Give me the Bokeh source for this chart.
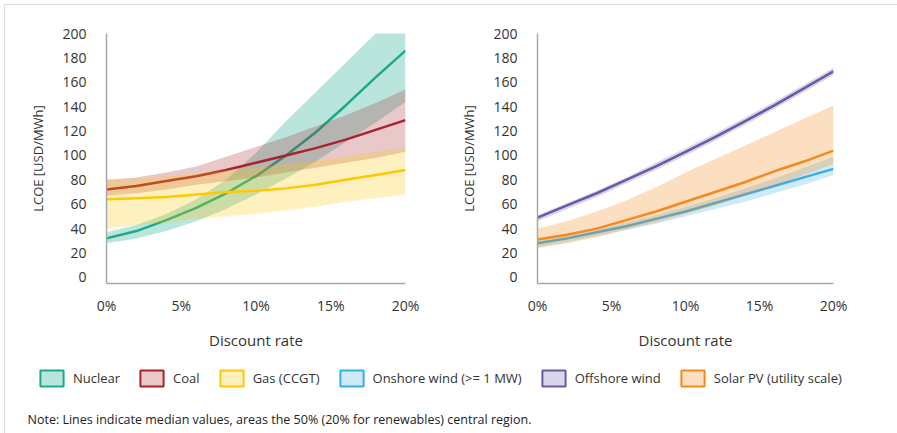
from bokeh.plotting import figure
from bokeh.layouts import column, row
from bokeh.models import FixedTicker, Legend, LegendItem, Label, Range1d
from bokeh.embed import file_html
from bokeh.resources import INLINE

# Discount rates (%) at which the LCOE was evaluated
rates = [0, 2, 4, 6, 8, 10, 12, 14, 16, 18, 20]

# Dispatchable technologies: median and central-region bounds (USD/MWh)
nuclear_mid = [32, 38, 47, 57, 69, 83, 100, 119, 141, 164, 186]
nuclear_low = [28, 32, 38, 46, 56, 68, 81, 95, 111, 127, 144]
nuclear_high = [37, 43, 52, 64, 80, 102, 128, 152, 176, 200, 226]

coal_mid = [72, 75, 79, 83, 88, 94, 100, 106, 113, 121, 129]
coal_low = [67, 69, 72, 76, 79, 82, 86, 90, 94, 98, 103]
coal_high = [80, 82, 86, 91, 99, 107, 115, 124, 133, 143, 154]

gas_mid = [64, 65, 66, 68, 70, 71, 73, 76, 80, 84, 88]
gas_low = [40, 43, 45, 48, 50, 52, 55, 58, 62, 65, 68]
gas_high = [80, 81, 83, 85, 88, 90, 93, 96, 99, 103, 106]

# Renewable technologies
offshore_mid = [49, 59, 69, 80, 91, 103, 115, 128, 141, 155, 169]
offshore_low = [46, 56, 66, 77, 88, 100, 112, 125, 138, 152, 166]
offshore_high = [51, 61, 71, 82, 94, 106, 118, 131, 144, 158, 172]

onshore_mid = [28, 32, 37, 42, 48, 54, 61, 68, 75, 82, 89]
onshore_low = [25, 29, 34, 39, 44, 50, 56, 62, 69, 76, 84]
onshore_high = [30, 34, 39, 45, 51, 58, 65, 73, 81, 90, 99]

solar_mid = [31, 35, 40, 47, 54, 62, 70, 78, 87, 95, 104]
solar_low = [24, 28, 33, 39, 45, 52, 59, 67, 75, 84, 93]
solar_high = [40, 46, 54, 63, 74, 86, 97, 108, 119, 130, 141]

x_ticks = [0, 5, 10, 15, 20]
x_tick_labels = ["0%", "5%", "10%", "15%", "20%"]
y_ticks = [0, 20, 40, 60, 80, 100, 120, 140, 160, 180, 200]

FONT = "Open Sans"
TEXT = "#333333"

series_style = {
    "Nuclear": ("#1aaa8a", 0.30),
    "Coal": ("#a8232b", 0.25),
    "Gas (CCGT)": ("#ffc800", 0.25),
    "Onshore wind (>= 1 MW)": ("#3aaee6", 0.25),
    "Offshore wind": ("#675aa6", 0.25),
    "Solar PV (utility scale)": ("#f5891e", 0.28),
}


def panel(width, border_left, border_right):
    p = figure(width=width, height=347, x_range=Range1d(0, 20), y_range=Range1d(-5, 200),
               output_backend="svg", toolbar_location=None,
               min_border_left=border_left, min_border_right=border_right,
               min_border_top=28, min_border_bottom=69)
    p.outline_line_color = None
    p.grid.visible = False
    p.xaxis.ticker = FixedTicker(ticks=x_ticks)
    p.xaxis.major_label_overrides = dict(zip(x_ticks, x_tick_labels))
    p.yaxis.ticker = FixedTicker(ticks=y_ticks)
    for ax in (p.xaxis, p.yaxis):
        ax.axis_line_color = "#a8a8a8"
        ax.axis_line_width = 1.5
        ax.major_tick_line_color = None
        ax.minor_tick_line_color = None
        ax.major_label_text_font = FONT
        ax.major_label_text_font_size = "14px"
        ax.major_label_text_color = TEXT
        ax.axis_label_text_font = FONT
        ax.axis_label_text_font_style = "normal"
        ax.axis_label_text_color = TEXT
    p.xaxis.major_label_standoff = 6
    p.yaxis.major_label_standoff = 14
    p.xaxis.axis_label = "Discount rate"
    p.xaxis.axis_label_text_font_size = "15px"
    p.xaxis.axis_label_standoff = 12
    p.yaxis.axis_label = "LCOE [USD/MWh]"
    p.yaxis.axis_label_text_font_size = "13px"
    p.yaxis.axis_label_standoff = 12
    return p


def band(p, name, low, high, mid):
    color, alpha = series_style[name]
    p.varea(x=rates, y1=low, y2=high, fill_color=color, fill_alpha=alpha)
    p.line(x=rates, y=mid, line_color=color, line_width=2.5)


left = panel(435, 101, 35)
band(left, "Nuclear", nuclear_low, nuclear_high, nuclear_mid)
band(left, "Coal", coal_low, coal_high, coal_mid)
band(left, "Gas (CCGT)", gas_low, gas_high, gas_mid)

right = panel(457, 97, 64)
band(right, "Offshore wind", offshore_low, offshore_high, offshore_mid)
band(right, "Onshore wind (>= 1 MW)", onshore_low, onshore_high, onshore_mid)
band(right, "Solar PV (utility scale)", solar_low, solar_high, solar_mid)

# Shared legend and footnote underneath both panels
foot = figure(width=892, height=81, x_range=Range1d(0, 1), y_range=Range1d(0, 1),
              output_backend="svg", toolbar_location=None, min_border=0,
              x_axis_type=None, y_axis_type=None)
foot.outline_line_color = None
foot.grid.visible = False

items = []
for name, (color, alpha) in series_style.items():
    # swatch-only renderer: its single point sits outside the visible range
    r = foot.rect(x=[-10], y=[-10], width=1, height=1, fill_color=color, fill_alpha=alpha,
                  line_color=color, line_width=2)
    items.append(LegendItem(label=name, renderers=[r]))

legend = Legend(items=items, orientation="horizontal", location=(32, 45),
                glyph_width=29, glyph_height=20, label_standoff=7, spacing=17,
                padding=0, margin=0, border_line_color=None, background_fill_alpha=0,
                label_text_font=FONT, label_text_font_size="13px", label_text_color=TEXT)
foot.add_layout(legend)

foot.add_layout(Label(x=22, y=14, x_units="screen", y_units="screen",
                      text="Note: Lines indicate median values, areas the 50% (20% for renewables) central region.",
                      text_font=FONT, text_font_size="12.5px", text_color="#222222",
                      text_baseline="middle"))

layout = column(row(left, right), foot,
                styles={"margin": "4px 0 0 4px", "border-top": "1px solid #dddddd",
                        "border-left": "1px solid #dddddd"})

open("out.html", "w").write(file_html(layout, INLINE))
